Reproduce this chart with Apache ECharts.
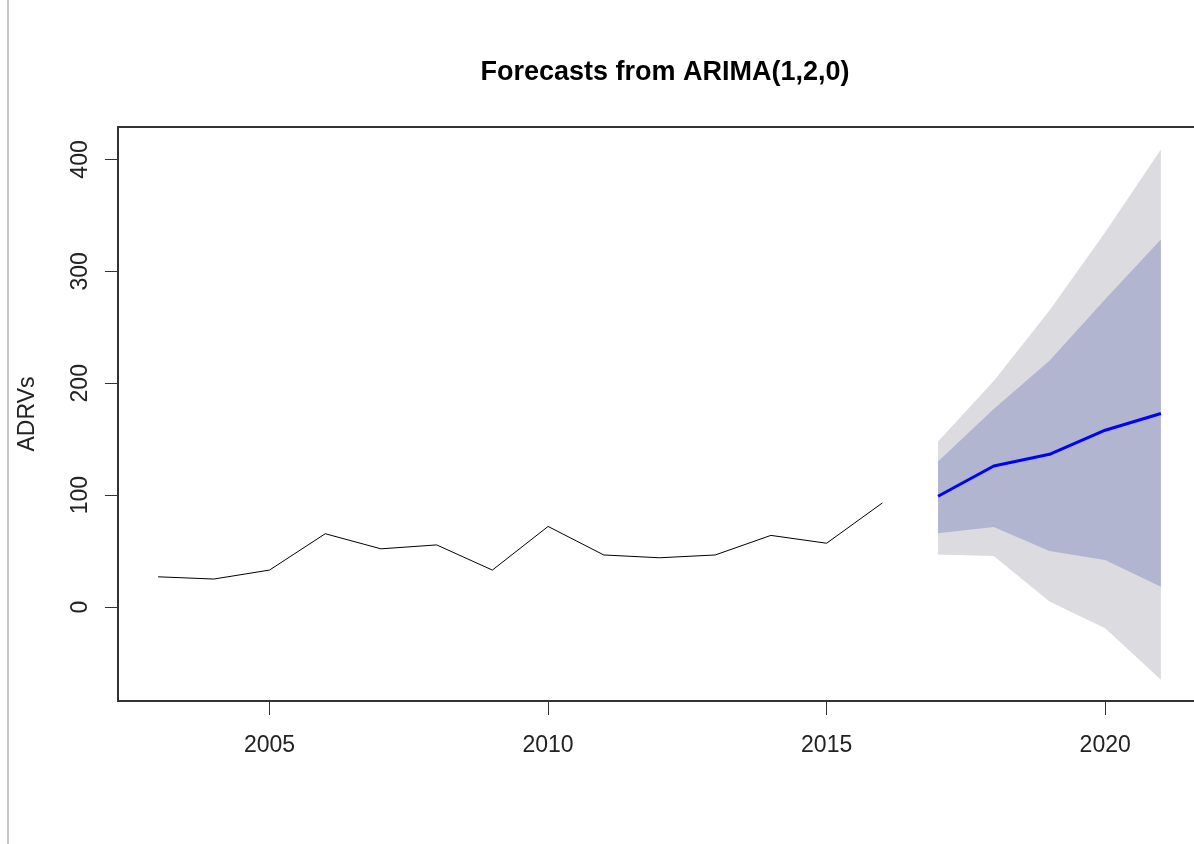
<!DOCTYPE html>
<html>
<head>
<meta charset="utf-8">
<script src="https://cdn.jsdelivr.net/npm/echarts@6/dist/echarts.min.js"></script>
<style>
html,body{margin:0;padding:0;background:#fff;}
#chart{width:1194px;height:844px;}
</style>
</head>
<body>
<div id="chart"></div>
<script>
// Historical series
const histYears = [2003,2004,2005,2006,2007,2008,2009,2010,2011,2012,2013,2014,2015,2016];
const histValues = [27,25,33,65.5,52,55.5,33,72,46.5,44,46.5,64,57,93];
// Forecast
const fcYears = [2017,2018,2019,2020,2021];
const fcMean = [99,126,136.5,158,173];
const fcLo80 = [66,71.5,50,42,18];
const fcHi80 = [130,177,220,275,328.5];
const fcLo95 = [47,45.5,5,-19,-65];
const fcHi95 = [148,202,265,335,409];
// Axis ticks
const xTicks = [2005,2010,2015,2020];
const yTicks = [0,100,200,300,400];

const FONT = 'Liberation Sans, Arial, sans-serif';
const pairs = (xs, ys) => xs.map((x,i)=>[x, ys[i]]);

function bandSeries(name, lower, upper, color, z){
  const data = fcYears.map((x,i)=>[x, lower[i], upper[i]]);
  return {
    type:'custom', name:name, z:z, silent:true,
    data:data,
    encode:{x:0, y:[1,2]},
    renderItem:function(params, api){
      if (params.dataIndex !== 0) return null;
      const top = data.map(d=>api.coord([d[0], d[2]]));
      const bot = data.map(d=>api.coord([d[0], d[1]])).reverse();
      return {
        type:'polygon',
        shape:{points: top.concat(bot)},
        style:{fill:color, stroke:null, lineWidth:0}
      };
    }
  };
}

const chart = echarts.init(document.getElementById('chart'), null, {renderer:'canvas'});
chart.setOption({
  animation:false,
  backgroundColor:'#fff',
  title:{
    text:'Forecasts from ARIMA(1,2,0)',
    left:660, top:54, textAlign:'center',
    textStyle:{fontFamily:FONT, fontSize:27, fontWeight:'bold', color:'#000'}
  },
  graphic:[{
    type:'line', shape:{x1:8,y1:0,x2:8,y2:844},
    style:{stroke:'#c8c8c8', lineWidth:2}
  }],
  grid:{left:118, top:127, width:1083, height:574, outerBoundsMode:'none', containLabel:false,
        show:true, borderColor:'#333', borderWidth:2, backgroundColor:'transparent'},
  xAxis:{
    type:'value', min:2002.28, max:2021.72,
    splitLine:{show:false},
    axisLine:{show:false, onZero:false},
    axisTick:{show:true, customValues:xTicks, length:14, lineStyle:{color:'#333', width:1}},
    axisLabel:{customValues:xTicks, formatter:v=>String(v), fontFamily:FONT, fontSize:23, color:'#222', margin:33}
  },
  yAxis:{
    type:'value', min:-84, max:429,
    name:'ADRVs', nameLocation:'middle', nameGap:79, nameRotate:90,
    nameTextStyle:{fontFamily:FONT, fontSize:23, color:'#222'},
    splitLine:{show:false},
    axisLine:{show:false, onZero:false},
    axisTick:{show:true, customValues:yTicks, length:13, lineStyle:{color:'#333', width:1}},
    axisLabel:{customValues:yTicks, formatter:v=>String(v), rotate:90, fontFamily:FONT, fontSize:23, color:'#222', margin:26}
  },
  series:[
    bandSeries('95%', fcLo95, fcHi95, '#dbdbe0', 1),
    bandSeries('80%', fcLo80, fcHi80, '#b1b5d0', 2),
    {type:'line', name:'history', data:pairs(histYears, histValues), symbol:'none', showSymbol:false,
     lineStyle:{color:'#000', width:1}, z:5},
    {type:'line', name:'mean', data:pairs(fcYears, fcMean), symbol:'none', showSymbol:false,
     lineStyle:{color:'#0000ff', width:3}, z:5}
  ]
});
</script>
</body>
</html>
